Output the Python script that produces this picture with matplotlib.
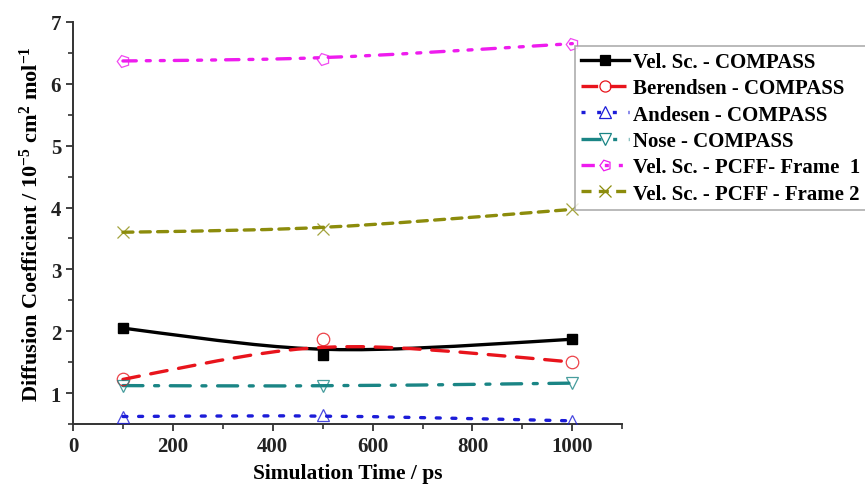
import matplotlib
matplotlib.use("Agg")
import matplotlib.pyplot as plt
from matplotlib.path import Path
from matplotlib.patches import PathPatch
from matplotlib.lines import Line2D
from matplotlib.ticker import MultipleLocator

plt.rcParams["font.family"] = "Liberation Serif"
plt.rcParams["font.weight"] = "bold"
plt.rcParams["mathtext.fontset"] = "custom"
plt.rcParams["mathtext.rm"] = "Liberation Serif:bold"
plt.rcParams["mathtext.default"] = "rm"

# simulation times (ps)
times = [100, 500, 1000]

vel_compass = [2.05, 1.62, 1.87]
beren_compass = [1.22, 1.87, 1.50]
andesen_compass = [0.62, 0.64, 0.55]
nose_compass = [1.12, 1.11, 1.16]
vel_pcff_f1 = [6.37, 6.40, 6.65]
vel_pcff_f2 = [3.60, 3.65, 3.97]

labels = [
    "Vel. Sc. - COMPASS",
    "Berendsen - COMPASS",
    "Andesen - COMPASS",
    "Nose - COMPASS",
    "Vel. Sc. - PCFF- Frame  1",
    "Vel. Sc. - PCFF - Frame 2",
]

series = [
    # values, colour, dashes, marker, filled
    (vel_compass, "#000000", (None, None), "s", True),
    (beren_compass, "#e8141c", (5, 3.5), "o", False),
    (andesen_compass, "#1c1cd8", (1.2, 3.5), "^", False),
    (nose_compass, "#1a8585", (6, 3.5, 1.2, 3.5), "v", False),
    (vel_pcff_f1, "#ee1cee", (4, 3, 1.2, 3, 1.2, 3), (5, 0, 90), False),
    (vel_pcff_f2, "#8c8c0c", (3, 2.2), "x", False),
]

fig = plt.figure(figsize=(8.65, 4.89), dpi=100)
ax = fig.add_axes([0.0844, 0.131, 0.635, 0.822])

handles = []
for vals, col, dash, mk, filled in series:
    # smooth B-spline style curve, data points used as control points
    p0, p1, p2 = zip(times, vals)
    path = Path([p0, p1, p1, p2], [Path.MOVETO, Path.CURVE4, Path.CURVE4, Path.CURVE4])
    patch = PathPatch(path, facecolor="none", edgecolor=col, lw=2.4,
                      capstyle="round")
    if dash[0] is not None:
        patch.set_linestyle((0, dash))
    ax.add_patch(patch)
    if filled:
        ax.plot(times, vals, ls="none", marker=mk, ms=6.5, mfc=col, mec=col, zorder=3)
    else:
        ax.plot(times, vals, ls="none", marker=mk, ms=9, mfc="none",
                mec=col, mew=0.9, zorder=3, alpha=0.8)
    ls = "-" if dash[0] is None else (0, dash)
    handles.append(Line2D([], [], color=col, lw=2.4, linestyle=ls, marker=mk,
                          ms=6.5 if filled else 8, mfc=col if filled else "none",
                          mec=col, mew=0.9))

ax.set_xlim(0, 1100)
ax.set_ylim(0.5, 7)
ax.xaxis.set_major_locator(MultipleLocator(200))
ax.xaxis.set_minor_locator(MultipleLocator(100))
ax.yaxis.set_major_locator(MultipleLocator(1))
ax.yaxis.set_minor_locator(MultipleLocator(0.5))
ax.set_yticks([1, 2, 3, 4, 5, 6, 7])
ax.spines[["top", "right"]].set_visible(False)
for s in ["left", "bottom"]:
    ax.spines[s].set_color("#333333")
    ax.spines[s].set_linewidth(1.4)
ax.tick_params(which="major", direction="out", length=5, width=1.3,
               colors="#333333", labelsize=15, labelcolor="#222222")
ax.tick_params(which="minor", direction="out", length=3.5, width=1.2,
               colors="#333333")

ax.set_xlabel("Simulation Time / ps", fontsize=15.5, fontweight="bold", labelpad=5)
ax.set_ylabel(r"Diffusion Coefficient / 10$^{-5}$ cm$^{2}$ mol$^{-1}$",
              fontsize=16, fontweight="bold", labelpad=6)

leg = fig.legend(handles, labels, loc="upper left",
                 bbox_to_anchor=(575 / 865, 1 - 47 / 489),
                 prop={"family": "Liberation Serif", "weight": "bold", "size": 15},
                 frameon=True, fancybox=False, handlelength=2.3,
                 handletextpad=0.2, borderpad=0.3, labelspacing=0.3,
                 borderaxespad=0)
leg.get_frame().set_edgecolor("#999999")
leg.get_frame().set_linewidth(1.2)

fig.savefig("out.png", dpi=100)
